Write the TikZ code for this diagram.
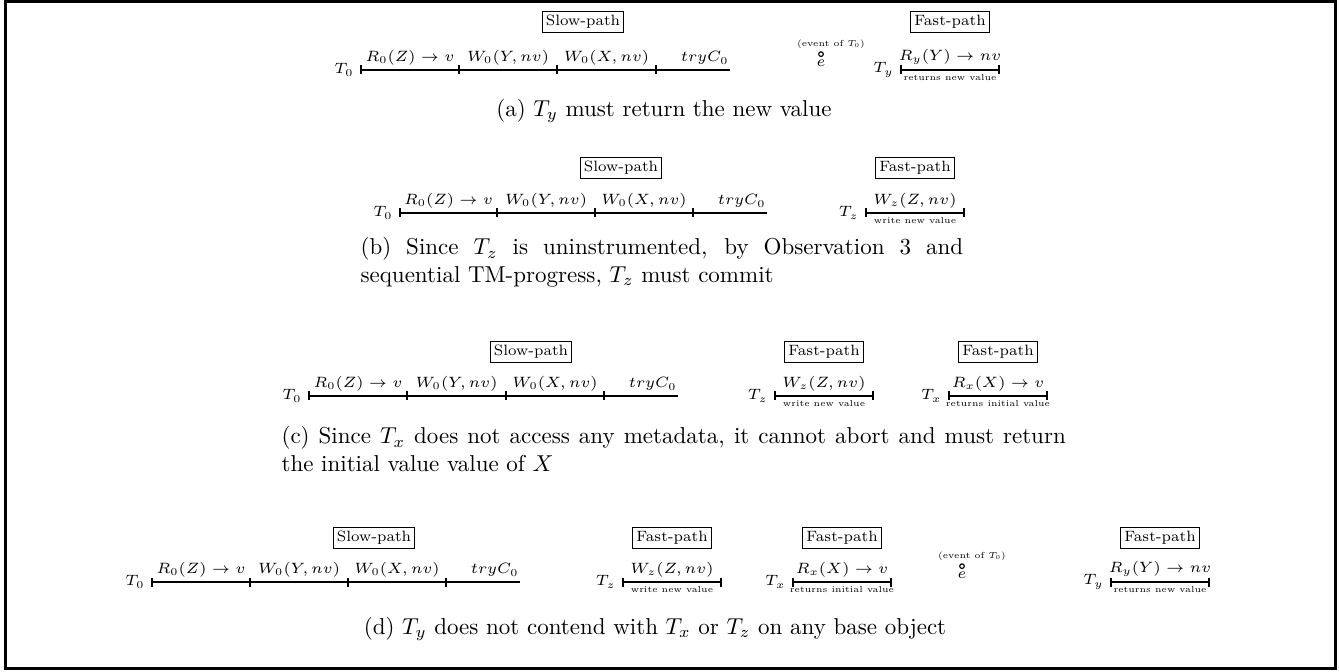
\RequirePackage{fix-cm}
\documentclass[tikz,border=0pt]{standalone}
\usepackage{amsmath}
\usetikzlibrary{positioning}

\tikzset{
  pathbox/.style={draw, line width=0.5pt, inner sep=1.6pt, font=\fontsize{6.5}{7.8}\selectfont},
  oplabel/.style={inner sep=0pt, font=\fontsize{6.5}{7.8}\selectfont},
  txname/.style={inner sep=0pt, font=\fontsize{6.5}{7.8}\selectfont},
  notelabel/.style={inner sep=0pt, font=\fontsize{3.8}{4.5}\selectfont},
  subcap/.style={inner sep=0pt, font=\fontsize{10}{12}\selectfont, align=justify}
}

\begin{document}
\begin{tikzpicture}[x=0.4348pt, y=-0.4348pt, line width=0.5pt]
    \useasboundingbox (0,0) rectangle (1339,672);
    % outer frame
    \draw[line width=1.1pt] (5.5,1.5) rectangle (1335.5,668.5);

    % (a) - slow path T0 and fast path Ty
    \coordinate (a0) at (361,70);
    \coordinate (a1) at (459,70);
    \coordinate (a2) at (557,70);
    \coordinate (a3) at (656,70);
    \coordinate (a4) at (730,70);
    \draw (a0) -- (a4);
    \foreach \c in {a0,a1,a2,a3} \draw (\c) ++(0,-4.5) -- ++(0,9);
    \node[txname, left=3pt of a0] (aT0) {$T_0$};
    \path (a0) -- (a1) node[midway, above=2pt, oplabel] (aop1) {$R_0(Z) \rightarrow v$};
    \path (a1) -- (a2) node[midway, above=2pt, oplabel] (aop2) {$W_0(Y,nv)$};
    \path (a2) -- (a3) node[midway, above=2pt, oplabel] (aop3) {$W_0(X,nv)$};
    \path (a3) -- (a4) node[pos=0.66, above=2pt, oplabel] (aop4) {$tryC_0$};
    \node[pathbox] (aslow) at (583,22) {Slow-path};

    % event e of T0, drawn as a small circle over e
    \node[txname] (ae) at (821,63) {$e$};
    \draw ([yshift=2.2pt]ae.north) circle (2.3);
    \node[notelabel] (aevent) at (831,44) {(event of $T_0$)};

    \coordinate (ay0) at (901,70);
    \coordinate (ay1) at (999,70);
    \draw (ay0) -- (ay1);
    \foreach \c in {ay0,ay1} \draw (\c) ++(0,-4.5) -- ++(0,9);
    \node[txname, left=3pt of ay0] (aTy) {$T_y$};
    \path (ay0) -- (ay1) node[midway, above=2pt, oplabel] (aopy) {$R_y(Y) \rightarrow nv$};
    \path (ay0) -- (ay1) node[midway, below=1.5pt, notelabel] (aretny) {returns new value};
    \node[pathbox] (afast) at (950,22) {Fast-path};

    \node[subcap] (capa) at (664,111) {(a) $T_y$ must return the new value};

    % (b) - slow path T0 and fast path Tz
    \coordinate (b0) at (400,213);
    \coordinate (b1) at (497,213);
    \coordinate (b2) at (595,213);
    \coordinate (b3) at (693,213);
    \coordinate (b4) at (767,213);
    \draw (b0) -- (b4);
    \foreach \c in {b0,b1,b2,b3} \draw (\c) ++(0,-4.5) -- ++(0,9);
    \node[txname, left=3pt of b0] (bT0) {$T_0$};
    \path (b0) -- (b1) node[midway, above=2pt, oplabel] (bop1) {$R_0(Z) \rightarrow v$};
    \path (b1) -- (b2) node[midway, above=2pt, oplabel] (bop2) {$W_0(Y,nv)$};
    \path (b2) -- (b3) node[midway, above=2pt, oplabel] (bop3) {$W_0(X,nv)$};
    \path (b3) -- (b4) node[pos=0.66, above=2pt, oplabel] (bop4) {$tryC_0$};
    \node[pathbox] (bslow) at (621,168) {Slow-path};

    \coordinate (bz0) at (866,213);
    \coordinate (bz1) at (964,213);
    \draw (bz0) -- (bz1);
    \foreach \c in {bz0,bz1} \draw (\c) ++(0,-4.5) -- ++(0,9);
    \node[txname, left=3pt of bz0] (bTz) {$T_z$};
    \path (bz0) -- (bz1) node[midway, above=2pt, oplabel] (bopz) {$W_z(Z,nv)$};
    \path (bz0) -- (bz1) node[midway, below=1.5pt, notelabel] (bwrite) {write new value};
    \node[pathbox] (bfast) at (915,168) {Fast-path};

    \node[subcap, text width=262pt, anchor=north west] (capb) at (360,237)
        {(b) Since $T_z$ is uninstrumented, by Observation 3 and\linebreak sequential TM-progress, $T_z$ must commit};

    % (c) - slow path T0, fast paths Tz and Tx
    \coordinate (c0) at (309,396);
    \coordinate (c1) at (407,396);
    \coordinate (c2) at (506,396);
    \coordinate (c3) at (604,396);
    \coordinate (c4) at (678,396);
    \draw (c0) -- (c4);
    \foreach \c in {c0,c1,c2,c3} \draw (\c) ++(0,-4.5) -- ++(0,9);
    \node[txname, left=3pt of c0] (cT0) {$T_0$};
    \path (c0) -- (c1) node[midway, above=2pt, oplabel] (cop1) {$R_0(Z) \rightarrow v$};
    \path (c1) -- (c2) node[midway, above=2pt, oplabel] (cop2) {$W_0(Y,nv)$};
    \path (c2) -- (c3) node[midway, above=2pt, oplabel] (cop3) {$W_0(X,nv)$};
    \path (c3) -- (c4) node[pos=0.66, above=2pt, oplabel] (cop4) {$tryC_0$};
    \node[pathbox] (cslow) at (531,352) {Slow-path};

    \coordinate (cz0) at (775,396);
    \coordinate (cz1) at (873,396);
    \draw (cz0) -- (cz1);
    \foreach \c in {cz0,cz1} \draw (\c) ++(0,-4.5) -- ++(0,9);
    \node[txname, left=3pt of cz0] (cTz) {$T_z$};
    \path (cz0) -- (cz1) node[midway, above=2pt, oplabel] (copz) {$W_z(Z,nv)$};
    \path (cz0) -- (cz1) node[midway, below=1.5pt, notelabel] (cwrite) {write new value};
    \node[pathbox] (cfastz) at (824,352) {Fast-path};

    \coordinate (cx0) at (949,396);
    \coordinate (cx1) at (1047,396);
    \draw (cx0) -- (cx1);
    \foreach \c in {cx0,cx1} \draw (\c) ++(0,-4.5) -- ++(0,9);
    \node[txname, left=3pt of cx0] (cTx) {$T_x$};
    \path (cx0) -- (cx1) node[midway, above=2pt, oplabel] (copx) {$R_x(X) \rightarrow v$};
    \path (cx0) -- (cx1) node[midway, below=1.5pt, notelabel] (cinit) {returns initial value};
    \node[pathbox] (cfastx) at (998,352) {Fast-path};

    \node[subcap, text width=341pt, anchor=north west] (capc) at (281,426)
        {(c) Since $T_x$ does not access any metadata, it cannot abort and must return the initial value value of $X$};

    % (d) - all four transactions
    \coordinate (d0) at (152,582);
    \coordinate (d1) at (250,582);
    \coordinate (d2) at (348,582);
    \coordinate (d3) at (446,582);
    \coordinate (d4) at (520,582);
    \draw (d0) -- (d4);
    \foreach \c in {d0,d1,d2,d3} \draw (\c) ++(0,-4.5) -- ++(0,9);
    \node[txname, left=3pt of d0] (dT0) {$T_0$};
    \path (d0) -- (d1) node[midway, above=2pt, oplabel] (dop1) {$R_0(Z) \rightarrow v$};
    \path (d1) -- (d2) node[midway, above=2pt, oplabel] (dop2) {$W_0(Y,nv)$};
    \path (d2) -- (d3) node[midway, above=2pt, oplabel] (dop3) {$W_0(X,nv)$};
    \path (d3) -- (d4) node[pos=0.66, above=2pt, oplabel] (dop4) {$tryC_0$};
    \node[pathbox] (dslow) at (374,538) {Slow-path};

    \coordinate (dz0) at (623,582);
    \coordinate (dz1) at (721,582);
    \draw (dz0) -- (dz1);
    \foreach \c in {dz0,dz1} \draw (\c) ++(0,-4.5) -- ++(0,9);
    \node[txname, left=3pt of dz0] (dTz) {$T_z$};
    \path (dz0) -- (dz1) node[midway, above=2pt, oplabel] (dopz) {$W_z(Z,nv)$};
    \path (dz0) -- (dz1) node[midway, below=1.5pt, notelabel] (dwrite) {write new value};
    \node[pathbox] (dfastz) at (672,538) {Fast-path};

    \coordinate (dx0) at (793,582);
    \coordinate (dx1) at (891,582);
    \draw (dx0) -- (dx1);
    \foreach \c in {dx0,dx1} \draw (\c) ++(0,-4.5) -- ++(0,9);
    \node[txname, left=3pt of dx0] (dTx) {$T_x$};
    \path (dx0) -- (dx1) node[midway, above=2pt, oplabel] (dopx) {$R_x(X) \rightarrow v$};
    \path (dx0) -- (dx1) node[midway, below=1.5pt, notelabel] (dinit) {returns initial value};
    \node[pathbox] (dfastx) at (842,538) {Fast-path};

    \node[txname] (de) at (962,575) {$e$};
    \draw ([yshift=2.2pt]de.north) circle (2.3);
    \node[notelabel] (devent) at (972,556) {(event of $T_0$)};

    \coordinate (dy0) at (1111,582);
    \coordinate (dy1) at (1209,582);
    \draw (dy0) -- (dy1);
    \foreach \c in {dy0,dy1} \draw (\c) ++(0,-4.5) -- ++(0,9);
    \node[txname, left=3pt of dy0] (dTy) {$T_y$};
    \path (dy0) -- (dy1) node[midway, above=2pt, oplabel] (dopy) {$R_y(Y) \rightarrow nv$};
    \path (dy0) -- (dy1) node[midway, below=1.5pt, notelabel] (dretny) {returns new value};
    \node[pathbox] (dfasty) at (1160,538) {Fast-path};

    \node[subcap] (capd) at (655,629) {(d) $T_y$ does not contend with $T_x$ or $T_z$ on any base object};
\end{tikzpicture}
\end{document}
